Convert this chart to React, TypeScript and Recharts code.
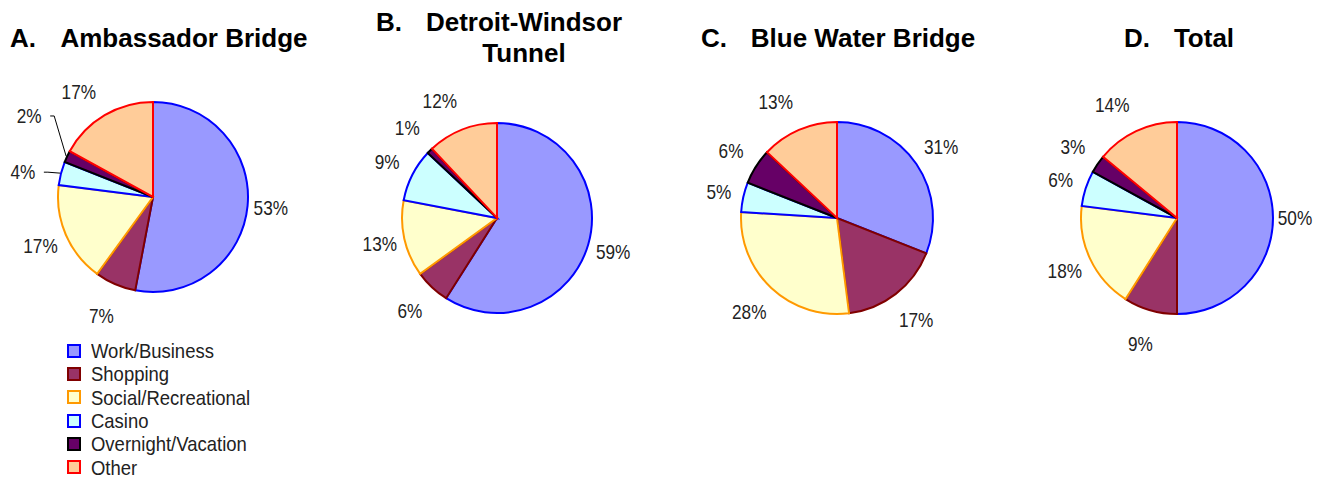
import React from 'react';
import { PieChart, Pie, Cell, Legend } from 'recharts';

const categories = ['Work/Business', 'Shopping', 'Social/Recreational', 'Casino', 'Overnight/Vacation', 'Other'];

// percent of trips by purpose, per crossing
const ambassador = [53, 7, 17, 4, 2, 17];
const tunnel = [59, 6, 13, 9, 1, 12];
const blueWater = [31, 17, 28, 5, 6, 13];
const total = [50, 9, 18, 6, 3, 14];

const fills = ['#9999FF', '#993366', '#FFFFCC', '#CCFFFF', '#660066', '#FFCC99'];
const strokes = ['#0000FF', '#800000', '#FF9900', '#0000FF', '#000000', '#FF0000'];

const labelFont = '"Liberation Sans", Arial, sans-serif';
const titleFont = '"Liberation Sans", Arial, sans-serif';
const RAD = Math.PI / 180;
const NARROW = 0.82;

const pies = [
  { letter: 'A.', lines: ['Ambassador Bridge'], values: ambassador, cx: 153, cy: 197, r: 95, letterX: 10, titleX: 184, titleY: 47 },
  { letter: 'B.', lines: ['Detroit-Windsor', 'Tunnel'], values: tunnel, cx: 497, cy: 218, r: 95, letterX: 376, titleX: 524, titleY: 31 },
  { letter: 'C.', lines: ['Blue Water Bridge'], values: blueWater, cx: 837, cy: 218, r: 96, letterX: 701, titleX: 863, titleY: 47 },
  { letter: 'D.', lines: ['Total'], values: total, cx: 1177, cy: 218, r: 96, letterX: 1124, titleX: 1204, titleY: 47 },
];

// small slices in the first pie get pulled-out labels with leader lines
const leaders: Record<string, { dr: number; da: number }> = {
  '0-3': { dr: 12, da: 3.6 },
  '0-4': { dr: 25, da: -8 },
};

const makeLabel = (pieIdx: number) => (props: any) => {
  const { cx, cy, midAngle, outerRadius, value, index } = props;
  const s = Math.abs(Math.sin(-midAngle * RAD));
  let rr = outerRadius + 22 + 14 * s;
  let ang = midAngle;
  const norm = ((midAngle % 360) + 360) % 360;
  if (norm > 100 && norm < 130) ang += 4.5;
  const lead = leaders[`${pieIdx}-${index}`];
  if (lead) {
    rr += lead.dr;
    ang = midAngle + lead.da;
  }
  const x = cx + rr * Math.cos(-ang * RAD);
  const y = cy + rr * Math.sin(-ang * RAD);
  let line = null;
  if (lead) {
    const ex = cx + (outerRadius + 1) * Math.cos(-midAngle * RAD);
    const ey = cy + (outerRadius + 1) * Math.sin(-midAngle * RAD);
    const right = x + 13;
    line = (
      <polyline
        points={`${ex},${ey} ${right + 12},${y} ${right + 8},${y}`}
        fill="none"
        stroke="#000"
        strokeWidth={1}
      />
    );
  }
  return (
    <g key={`lbl-${pieIdx}-${index}`}>
      {line}
      <g transform={`translate(${x},${y}) scale(${NARROW},1)`}>
        <text
          x={0}
          y={0}
          textAnchor="middle"
          dominantBaseline="central"
          fontFamily={labelFont}
          fontSize={21}
          fill="#222"
        >
          {`${value}%`}
        </text>
      </g>
    </g>
  );
};

const LegendBox = (props: any) => {
  const seen: string[] = [];
  (props.payload || []).forEach((p: any) => {
    if (!seen.includes(p.value)) seen.push(p.value);
  });
  const items = (seen.length ? seen : categories)
    .slice()
    .sort((a, b) => categories.indexOf(a) - categories.indexOf(b));
  return (
    <div>
      {items.map((name) => {
        const i = categories.indexOf(name);
        return (
          <div key={name} style={{ display: 'flex', alignItems: 'center', height: 23.3 }}>
            <span
              style={{
                display: 'inline-block',
                flex: 'none',
                width: 10,
                height: 10,
                background: fills[i],
                border: `2px solid ${strokes[i]}`,
                marginRight: 10,
              }}
            />
            <span
              style={{
                fontFamily: labelFont,
                fontSize: 21,
                color: '#222',
                lineHeight: '21px',
                whiteSpace: 'nowrap',
                display: 'inline-block',
                transform: 'scaleX(0.88)',
                transformOrigin: 'left center',
              }}
            >
              {name}
            </span>
          </div>
        );
      })}
    </div>
  );
};

export default function App() {
  return (
    <div style={{ position: 'absolute', left: 0, top: 0, width: 1328, height: 481, background: '#fff' }}>
      <PieChart width={1328} height={481} margin={{ top: 0, right: 0, bottom: 0, left: 0 }}>
        {pies.map((p, pi) => (
          <Pie
            key={p.letter}
            data={p.values.map((v, i) => ({ name: categories[i], value: v }))}
            dataKey="value"
            nameKey="name"
            cx={p.cx}
            cy={p.cy}
            outerRadius={p.r}
            startAngle={90}
            endAngle={-270}
            label={makeLabel(pi)}
            labelLine={false}
            isAnimationActive={false}
          >
            {p.values.map((_, i) => (
              <Cell key={i} fill={fills[i]} stroke={strokes[i]} strokeWidth={2} />
            ))}
          </Pie>
        ))}
        <Legend
          content={<LegendBox />}
          layout="vertical"
          wrapperStyle={{ position: 'absolute', left: 67, top: 339, width: 240, height: 140 }}
        />
      </PieChart>
      <svg width={1328} height={481} style={{ position: 'absolute', left: 0, top: 0, pointerEvents: 'none' }}>
        {pies.map((p) => (
          <g key={p.letter} fontFamily={titleFont} fontWeight="bold" fontSize={26} fill="#000">
            <text x={p.letterX} y={p.titleY}>{p.letter}</text>
            {p.lines.map((ln, li) => (
              <text key={ln} x={p.titleX} y={p.titleY + li * 31} textAnchor="middle">
                {ln}
              </text>
            ))}
          </g>
        ))}
      </svg>
    </div>
  );
}
